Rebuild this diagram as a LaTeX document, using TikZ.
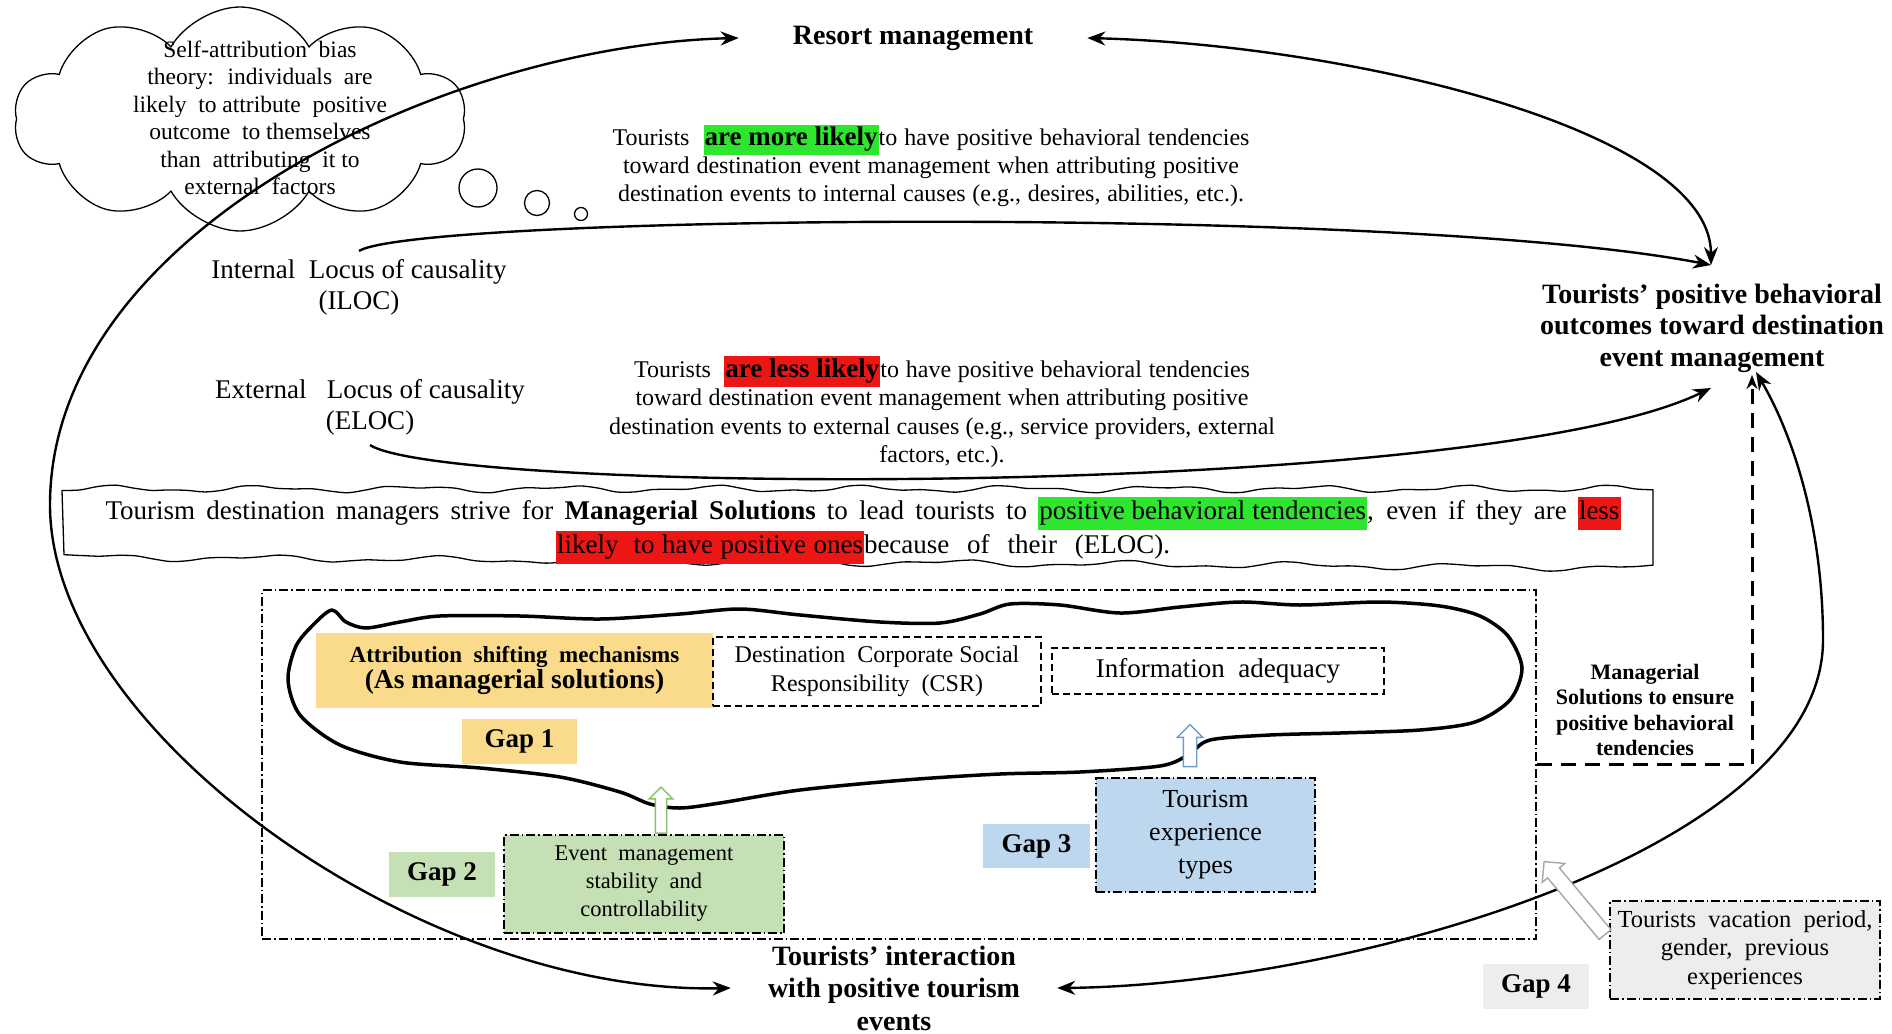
\documentclass[tikz,border=0pt]{standalone}
\usepackage{fontspec}
\setmainfont{Liberation Serif}
\usetikzlibrary{arrows.meta,shapes.symbols,shapes.arrows}

\definecolor{hlgreen}{HTML}{2EE62E}
\definecolor{hlred}{HTML}{EE1515}
\definecolor{gapyellow}{HTML}{FADB8C}
\definecolor{gapgreen}{HTML}{C5E0B4}
\definecolor{gapblue}{HTML}{BDD7EE}
\definecolor{gapgray}{HTML}{EDEDED}
\definecolor{arrgreen}{HTML}{8CBF6A}
\definecolor{arrblue}{HTML}{6D9DCF}
\definecolor{arrgray}{HTML}{A6A6A6}

\newcommand\setfs[2]{\fontsize{#1}{#2}\selectfont}
\newcommand\spreadline[2]{\makebox[#1pt][s]{#2}}
\newcommand\hlg[1]{{\setlength{\fboxsep}{1pt}\colorbox{hlgreen}{\strut #1}}}
\newcommand\hlr[1]{{\setlength{\fboxsep}{1pt}\colorbox{hlred}{\strut #1}}}

\begin{document}
\begin{tikzpicture}[x=1pt,y=-1pt,
  every node/.style={inner sep=0pt,align=center},
  conn/.style={line width=2.4pt,-{Stealth[length=18pt,width=14pt]}},
  biconn/.style={line width=2.4pt,{Stealth[length=18pt,width=14pt]}-{Stealth[length=18pt,width=14pt]}},
  dashconn/.style={line width=3pt,dash pattern=on 15pt off 9pt,-{Stealth[length=14pt,width=11pt]}},
  dashbox/.style={draw,line width=1.1pt,dash pattern=on 7pt off 4pt},
  dotbox/.style={draw,line width=1.1pt,dash pattern=on 9pt off 3pt on 1.5pt off 3pt},
  gaplabel/.style={font=\setfs{27}{31}\bfseries,minimum width=106pt,minimum height=45pt},
  blockarrow/.style={single arrow,fill=white,line width=1.4pt,inner xsep=0pt},
]
\useasboundingbox (0,0) rectangle (1892,1033);

% thought cloud with its bubbles
\node[cloud,draw,line width=1.3pt,cloud puffs=10,cloud puff arc=120,aspect=2,
      minimum width=452pt,minimum height=224pt] (thought) at (240,119) {};
\node[circle,draw,line width=1.3pt,minimum size=38pt] (bub1) at (478,188) {};
\node[circle,draw,line width=1.3pt,minimum size=25pt] (bub2) at (537,203) {};
\node[circle,draw,line width=1.3pt,minimum size=13pt] (bub3) at (581,214) {};
\node[font=\setfs{23.5}{27.5}] (selftxt) at (260,118)
  {Self-attribution~ bias\\theory:~ individuals~ are\\likely~ to attribute~ positive\\outcome~ to themselves\\than~ attributing~ it to\\external~ factors};

% main concepts
\node[font=\setfs{28}{32}\bfseries,inner xsep=54pt] (rm) at (913,38) {Resort management};
\node[font=\setfs{28}{31.5}\bfseries] (out) at (1712,328)
  {Tourists’ positive behavioral\\outcomes toward destination\\event management};
\node[font=\setfs{28}{32.5}\bfseries,inner xsep=37pt] (ti) at (894,988)
  {Tourists’ interaction\\with positive tourism\\events};
\node[font=\setfs{27}{31},inner ysep=8pt] (iloc) at (359,287) {Internal~ Locus of causality\\(ILOC)};
\node[font=\setfs{27}{31},inner ysep=10pt] (eloc) at (370,407) {External~~ Locus of causality\\(ELOC)};

\node[font=\setfs{24}{28}] (ilocmsg) at (931,166)
  {\spreadline{637}{Tourists~ \hlg{\setfs{27}{28}\bfseries are more likely}to have positive behavioral tendencies}\\
   \spreadline{616}{toward destination event management when attributing positive}\\
   \spreadline{626}{destination events to internal causes (e.g., desires, abilities, etc.).}};
\node[font=\setfs{24}{28.5}] (elocmsg) at (942,412)
  {\spreadline{616}{Tourists~ \hlr{\setfs{27}{28}\bfseries are less likely}to have positive behavioral tendencies}\\
   \spreadline{613}{toward destination event management when attributing positive}\\
   \spreadline{666}{destination events to external causes (e.g., service providers, external}\\
   factors, etc.).};

% wavy banner
\draw[line width=1.3pt,line join=round]
  plot[smooth,domain=62:1653,samples=90] (\x,{489+2.5*sin(2.4*\x)+1.5*sin(5.3*\x+40)})
  -- plot[smooth,domain=1653:64,samples=90] (\x,{557+0.0069*(\x-62)+2.5*sin(2.1*\x+70)+1.5*sin(4.7*\x)})
  -- cycle;
\node[font=\setfs{27}{31}] (bantxt) at (863,530)
  {\spreadline{1515}{Tourism destination managers strive for \textbf{Managerial Solutions} to lead tourists to \hlg{positive behavioral tendencies}, even if they are \hlr{less}}\\
   \hlr{\spreadline{306}{likely~ to have positive ones}}\spreadline{306}{because of their (ELOC).}};

% managerial solutions area
\node[dotbox,minimum width=1274pt,minimum height=349pt] (solbox) at (899,764.5) {};

\draw[line width=3.5pt,line join=round] plot[smooth cycle,tension=0.5] coordinates {
  (332,610) (346,622) (366,628) (400,622) (440,616) (520,616) (600,619) (680,614)
  (740,609) (800,615) (880,622) (940,623) (980,614) (1010,604) (1060,605) (1120,613)
  (1180,607) (1240,602) (1300,605) (1380,602) (1440,606) (1480,616) (1508,636)
  (1522,668) (1510,700) (1475,722) (1420,730) (1340,733) (1270,735) (1210,740)
  (1188,755) (1160,766) (1080,772) (1000,774) (905,780) (800,790) (720,803)
  (680,808) (650,804) (620,792) (560,777) (480,768) (400,762) (340,745) (300,715)
  (288,680) (296,646) (314,624)};

\node[fill=gapyellow,minimum width=397pt,minimum height=75pt] (attr) at (514.5,670.5)
  {{\setfs{23}{29}\bfseries Attribution~ shifting~ mechanisms}\\{\setfs{27.5}{30}\bfseries (As managerial solutions)}};
\node[dashbox,minimum width=328pt,minimum height=69pt,font=\setfs{24}{29}] (csr) at (877,671.5)
  {Destination~ Corporate Social\\Responsibility~ (CSR)};
\node[dashbox,minimum width=332pt,minimum height=46pt,font=\setfs{27}{31}] (info) at (1218,671)
  {Information~ adequacy};
\node[gaplabel,fill=gapyellow,minimum width=115pt] (gap1) at (519.5,741.5) {Gap 1};
\node[gaplabel,fill=gapgreen] (gap2) at (442,874.5) {Gap 2};
\node[dotbox,fill=gapgreen,minimum width=280pt,minimum height=98pt,font=\setfs{22.5}{28}] (evt) at (644,884)
  {Event~ management\\stability~ and\\controllability};
\node[gaplabel,fill=gapblue,minimum width=107pt,minimum height=44pt] (gap3) at (1036.5,846) {Gap 3};
\node[dotbox,fill=gapblue,minimum width=219pt,minimum height=114pt,font=\setfs{26}{33}] (texp) at (1205.5,835)
  {Tourism\\experience\\types};
\node[gaplabel,fill=gapgray] (gap4) at (1536,986.5) {Gap 4};
\node[dotbox,fill=gapgray,minimum width=270pt,minimum height=98pt,font=\setfs{24.5}{28.5}] (vac) at (1745,950)
  {Tourists~ vacation~ period,\\gender,~ previous\\experiences};
\node[font=\setfs{22}{25.5}\bfseries] (msol) at (1645,710)
  {Managerial\\Solutions to ensure\\positive behavioral\\tendencies};

% free ends at the outcomes label
\coordinate (outTop) at (1711,265);
\coordinate (outLow) at (1711,388);
\coordinate (outRight) at (1756,372);
\coordinate (dashTip) at (1752,375);

% connectors
\draw[biconn] (rm.west) .. controls (450,45) and (50,230) .. (50,505)
  .. controls (50,730) and (420,995) .. (ti.west);
\draw[biconn] (rm.east) .. controls (1350,45) and (1711,130) .. (outTop);
\draw[conn] (iloc.north) .. controls (420,215) and (1400,205) .. (outTop);
\draw[conn] (eloc.south) .. controls (450,495) and (1480,500) .. (outLow);
\draw[biconn] (ti.east) .. controls (1350,985) and (1823,850) .. (1823,640)
  .. controls (1823,520) and (1790,430) .. (outRight);
\draw[dashconn] (solbox.east) -| (dashTip);

% hollow block arrows
\node[blockarrow,draw=arrgreen,minimum height=46pt,inner ysep=5pt,
      single arrow head extend=6pt,rotate=90] (upgreen) at (661,813) {};
\node[blockarrow,draw=arrblue,minimum height=42pt,inner ysep=6pt,
      single arrow head extend=6pt,rotate=90] (upblue) at (1190,749) {};
\node[blockarrow,draw=arrgray,minimum height=95pt,inner ysep=7pt,
      single arrow head extend=7pt,rotate=129.9] (upgray) at (1577,901) {};
\end{tikzpicture}
\end{document}
